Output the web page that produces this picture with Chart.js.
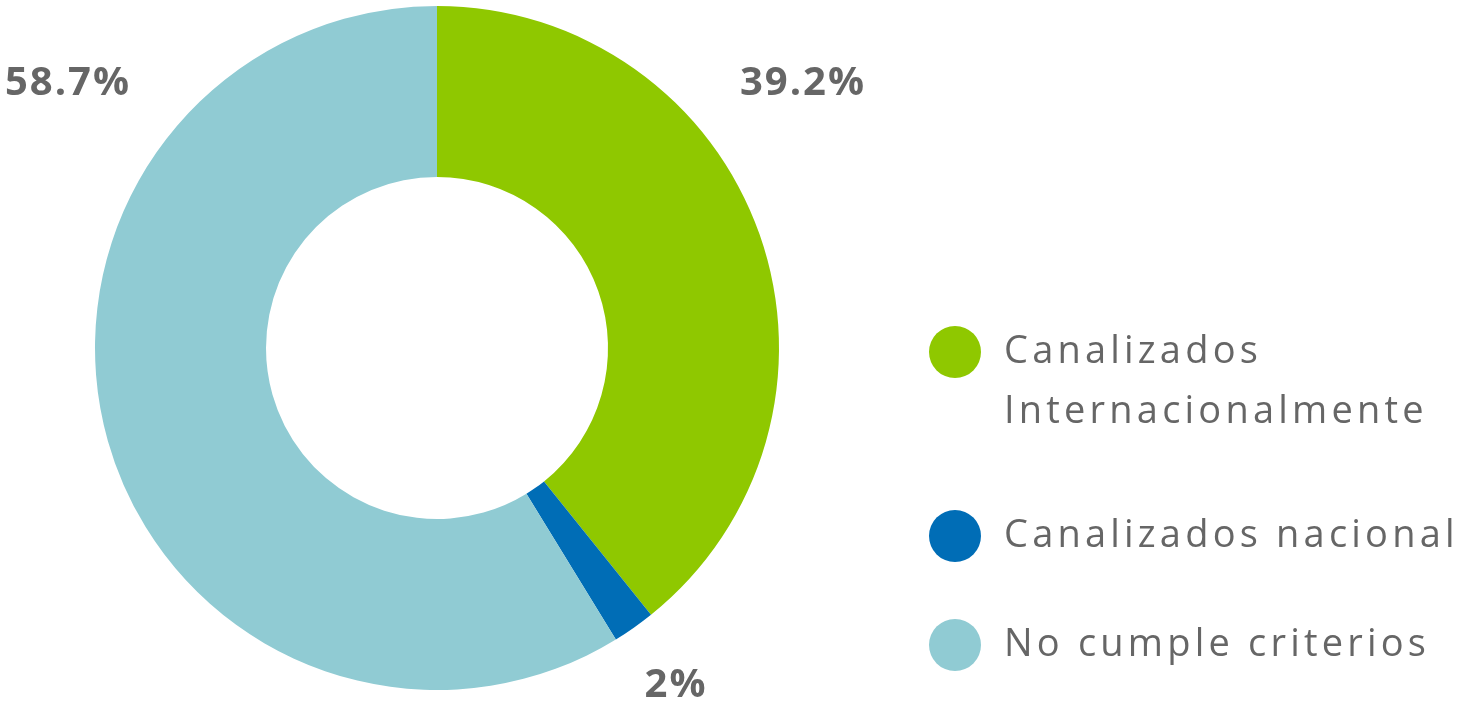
<!DOCTYPE html>
<html>
<head>
<meta charset="utf-8">
<script src="https://cdn.jsdelivr.net/npm/chart.js"></script>
<style>
  html, body { margin: 0; padding: 0; background: #fff; }
  #wrap { position: relative; width: 1461px; height: 705px; }
  #pie { position: absolute; left: 0; top: 0; }
  #legend { position: absolute; left: 929px; top: 318px; width: 532px; font-family: "Open Sans", sans-serif; color: #666; }
  .item { display: flex; align-items: flex-start; }
  .item + .item { margin-top: 64px; }
  .item:nth-child(3) { margin-top: 49px; }
  .dot { width: 52px; height: 52px; border-radius: 50%; flex: none; margin-top: 8px; margin-right: 23px; }
  .txt { font-size: 38px; line-height: 60px; letter-spacing: 4.2px; width: 470px; white-space: normal; }
</style>
</head>
<body>
<div id="wrap">
  <canvas id="pie" width="1461" height="705"></canvas>
  <div id="legend"></div>
</div>
<script>
const labels = ['Canalizados Internacionalmente', 'Canalizados nacional', 'No cumple criterios'];
const values = [39.2, 2, 58.7];
const valueLabels = ['39.2%', '2%', '58.7%'];
const colors = ['#8fc800', '#006db6', '#90cbd3'];

// where each percentage text sits, relative to the chart area
const labelSpots = [
  { x: 708, y: 78 },
  { x: 581, y: 680 },
  { x: -27, y: 78 }
];

const pctLabels = {
  id: 'pctLabels',
  afterDraw(chart) {
    const ctx = chart.ctx;
    const area = chart.chartArea;
    ctx.save();
    ctx.font = 'bold 40px "Open Sans", sans-serif';
    ctx.fillStyle = '#666';
    ctx.textAlign = 'center';
    ctx.textBaseline = 'middle';
    try { ctx.letterSpacing = '2px'; } catch (e) {}
    valueLabels.forEach((t, i) => {
      ctx.fillText(t, area.left + labelSpots[i].x, area.top + labelSpots[i].y);
    });
    ctx.restore();
  }
};

new Chart(document.getElementById('pie'), {
  type: 'doughnut',
  data: {
    labels: labels,
    datasets: [{
      data: values,
      backgroundColor: colors,
      borderWidth: 0
    }]
  },
  options: {
    responsive: false,
    animation: false,
    cutout: '50%',
    layout: { padding: { left: 95, right: 682, top: 6, bottom: 15 } },
    plugins: {
      legend: { display: false },
      tooltip: { enabled: false }
    }
  },
  plugins: [pctLabels]
});

const legendEl = document.getElementById('legend');
labels.forEach((l, i) => {
  const item = document.createElement('div');
  item.className = 'item';
  const dot = document.createElement('div');
  dot.className = 'dot';
  dot.style.background = colors[i];
  const txt = document.createElement('div');
  txt.className = 'txt';
  txt.textContent = l;
  item.appendChild(dot);
  item.appendChild(txt);
  legendEl.appendChild(item);
});
</script>
</body>
</html>
